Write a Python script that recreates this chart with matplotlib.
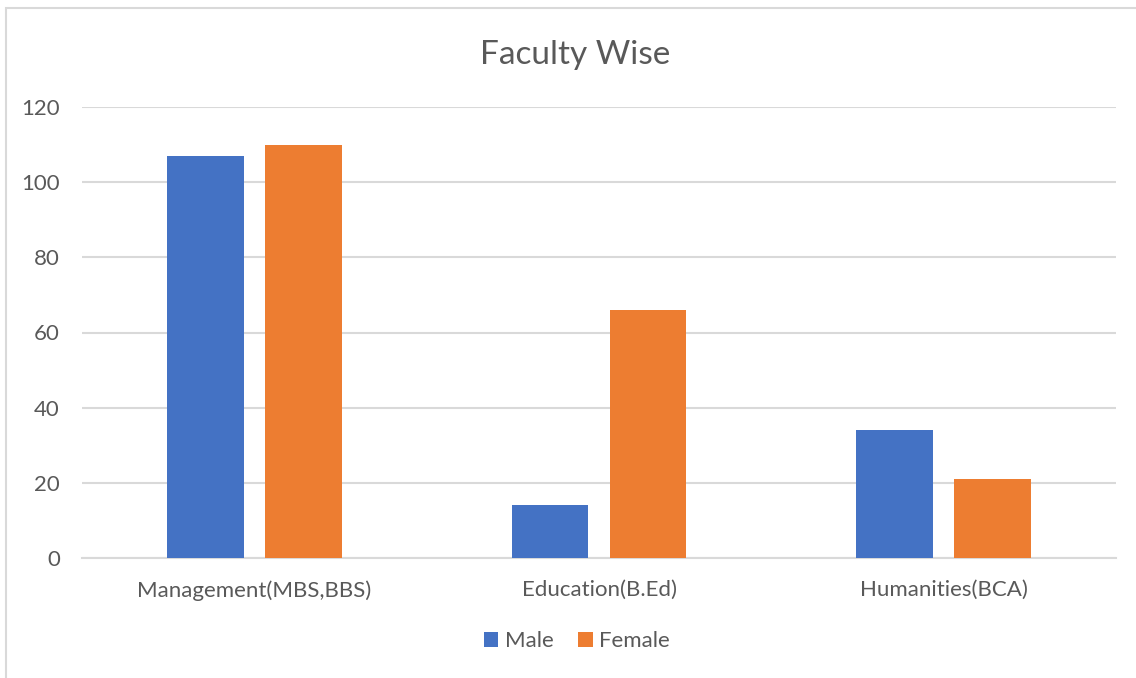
import numpy as np
import matplotlib.pyplot as plt
from matplotlib.patches import Rectangle

categories = ['Management(MBS,BBS)', 'Education(B.Ed)', 'Humanities(BCA)']
male = [107, 14, 34]
female = [110, 66, 21]
yticks = [0, 20, 40, 60, 80, 100, 120]

plt.rcParams['font.family'] = ['Lato', 'DejaVu Sans']
text_color = '#595959'
grid_color = '#D9D9D9'

fig = plt.figure(figsize=(11.36, 6.78), dpi=100)
# chart frame (only top and left edges visible in the original)
fig.patches.append(Rectangle((6 / 1136, -0.1), 1.2, 1.1 - 8 / 678, transform=fig.transFigure,
                             fill=False, edgecolor=grid_color, linewidth=1.5, zorder=0))

ax = fig.add_axes([82 / 1136, 1 - 558 / 678, (1116 - 82) / 1136, (558 - 107) / 678])
x = np.arange(len(categories))
w = 0.223
off = 0.142
ax.bar(x - off, male, w, color='#4472C4', label='Male', zorder=3)
ax.bar(x + off, female, w, color='#ED7D31', label='Female', zorder=3)

ax.set_xlim(-0.5, len(categories) - 0.5)
ax.set_ylim(0, 120)
ax.set_yticks(yticks)
ax.set_xticks(x)
ax.set_xticklabels(categories)
ax.grid(axis='y', color=grid_color, linewidth=1.5, zorder=0)
ax.set_axisbelow(True)
for s in ['top', 'right', 'left']:
    ax.spines[s].set_visible(False)
ax.spines['bottom'].set_color(grid_color)
ax.spines['bottom'].set_linewidth(1.5)
ax.tick_params(axis='both', length=0, labelsize=16, labelcolor=text_color)
ax.tick_params(axis='y', pad=16)
ax.tick_params(axis='x', pad=16)

fig.text(575 / 1136, 1 - 55 / 678, 'Faculty Wise', ha='center', va='center',
         fontsize=24, color=text_color)

fig.legend(loc='center', bbox_to_anchor=(577 / 1136, 1 - 641 / 678), ncol=2, frameon=False,
           fontsize=16, labelcolor=text_color, handlelength=0.65, handleheight=0.65,
           handletextpad=0.3, columnspacing=1.1)

fig.savefig('out.png', dpi=100, facecolor='white')
